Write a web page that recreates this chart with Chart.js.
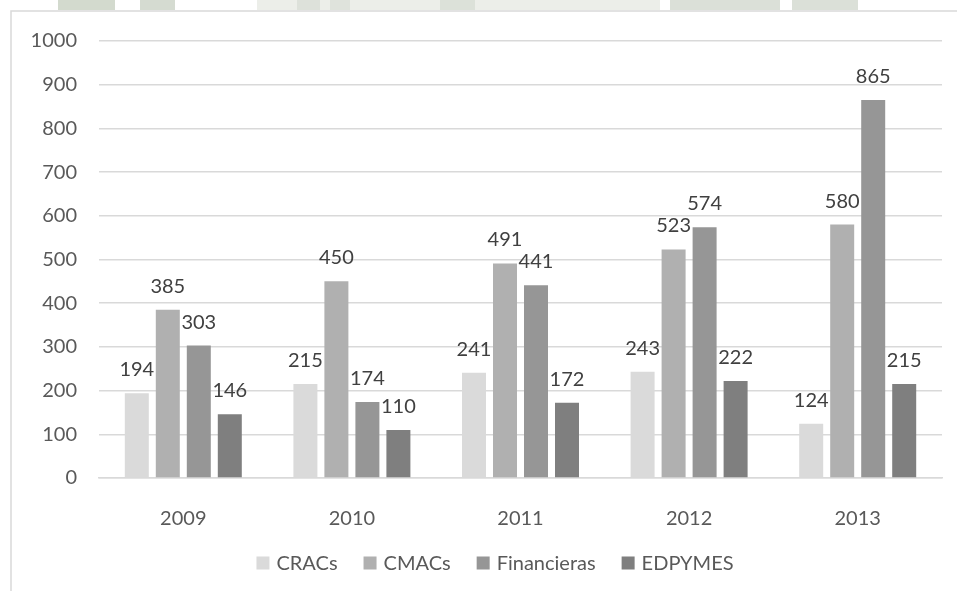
<!DOCTYPE html>
<html>
<head>
<meta charset="utf-8">
<script src="https://cdn.jsdelivr.net/npm/chart.js@4/dist/chart.umd.min.js"></script>
<style>
  html, body { margin: 0; padding: 0; background: #ffffff; }
  #wrap { width: 957px; height: 591px; position: relative; }
</style>
</head>
<body>
<div id="wrap"><canvas id="c" width="957" height="591"></canvas></div>
<script>
// Years on the category axis
const years = ['2009', '2010', '2011', '2012', '2013'];

// Values per institution type
const cracs = [194, 215, 241, 243, 124];
const cmacs = [385, 450, 491, 523, 580];
const financieras = [303, 174, 441, 574, 865];
const edpymes = [146, 110, 172, 222, 215];

// Value axis ticks
const yTicks = [0, 100, 200, 300, 400, 500, 600, 700, 800, 900, 1000];

const FONT = 'Lato, "Open Sans", sans-serif';

// Frame around the chart plus the faint banner strip above it
const framePlugin = {
  id: 'frame',
  beforeDraw(chart) {
    const ctx = chart.ctx;
    ctx.save();
    ctx.fillStyle = '#ffffff';
    ctx.fillRect(0, 0, chart.width, chart.height);
    const strips = [
      [58, 115, '#d3dace'], [140, 175, '#d5dbd1'],
      [257, 640, '#eceee9'], [297, 320, '#dde1da'], [330, 350, '#dfe3dc'],
      [440, 475, '#dce1d9'], [640, 660, '#eceee9'],
      [670, 780, '#dbe0d8'], [792, 858, '#dbe0d8']
    ];
    strips.forEach(([x0, x1, c]) => {
      ctx.fillStyle = c;
      ctx.fillRect(x0, 0, x1 - x0, 10);
    });
    ctx.strokeStyle = '#d9d9d9';
    ctx.lineWidth = 1.5;
    ctx.beginPath();
    ctx.moveTo(11, chart.height);
    ctx.lineTo(11, 11);
    ctx.lineTo(chart.width, 11);
    ctx.stroke();
    ctx.restore();
  }
};

// Value labels above each bar
const valueLabels = {
  id: 'valueLabels',
  afterDatasetsDraw(chart) {
    const ctx = chart.ctx;
    ctx.save();
    ctx.font = '20px ' + FONT;
    ctx.fillStyle = '#404040';
    ctx.textAlign = 'center';
    ctx.textBaseline = 'alphabetic';
    chart.data.datasets.forEach((ds, i) => {
      const meta = chart.getDatasetMeta(i);
      meta.data.forEach((bar, j) => {
        ctx.fillText(String(ds.data[j]), bar.x, bar.y - 17);
      });
    });
    ctx.restore();
  }
};

// Legend row under the axis, centred on the chart frame
const legendRow = {
  id: 'legendRow',
  afterDraw(chart) {
    const ctx = chart.ctx;
    ctx.save();
    ctx.font = '20px ' + FONT;
    ctx.textBaseline = 'middle';
    ctx.textAlign = 'left';
    const box = 13, gap = 7, spacing = 26, cy = 563, centre = 495;
    const items = chart.data.datasets.map(ds => ({
      text: ds.label, color: ds.backgroundColor, w: ctx.measureText(ds.label).width
    }));
    const total = items.reduce((s, it) => s + box + gap + it.w, 0) + spacing * (items.length - 1);
    let x = centre - total / 2;
    items.forEach(it => {
      ctx.fillStyle = it.color;
      ctx.fillRect(x, cy - box / 2, box, box);
      ctx.fillStyle = '#595959';
      ctx.fillText(it.text, x + box + gap, cy + 1);
      x += box + gap + it.w + spacing;
    });
    ctx.restore();
  }
};

new Chart(document.getElementById('c'), {
  type: 'bar',
  data: {
    labels: years,
    datasets: [
      { label: 'CRACs', data: cracs, backgroundColor: '#dadada' },
      { label: 'CMACs', data: cmacs, backgroundColor: '#b0b0b0' },
      { label: 'Financieras', data: financieras, backgroundColor: '#969696' },
      { label: 'EDPYMES', data: edpymes, backgroundColor: '#7f7f7f' }
    ]
  },
  options: {
    responsive: false,
    animation: false,
    devicePixelRatio: 1,
    categoryPercentage: 0.7355,
    barPercentage: 0.774,
    layout: { padding: { left: 11, right: 15, top: 41, bottom: 31 } },
    plugins: {
      legend: { display: false },
      tooltip: { enabled: false },
      title: { display: false }
    },
    scales: {
      x: {
        grid: { display: false, drawTicks: false },
        border: { display: true, color: '#d9d9d9', width: 1.5 },
        ticks: { font: { family: FONT, size: 20 }, color: '#595959', padding: 29 }
      },
      y: {
        min: 0,
        max: 1000,
        afterBuildTicks(scale) { scale.ticks = yTicks.map(v => ({ value: v })); },
        afterFit(scale) { scale.width = 88; },
        grid: { color: '#d9d9d9', lineWidth: 1.5, drawTicks: false },
        border: { display: false },
        ticks: {
          font: { family: FONT, size: 20 }, color: '#595959', padding: 22,
          callback: v => String(v)
        }
      }
    }
  },
  plugins: [framePlugin, valueLabels, legendRow]
});
</script>
</body>
</html>
